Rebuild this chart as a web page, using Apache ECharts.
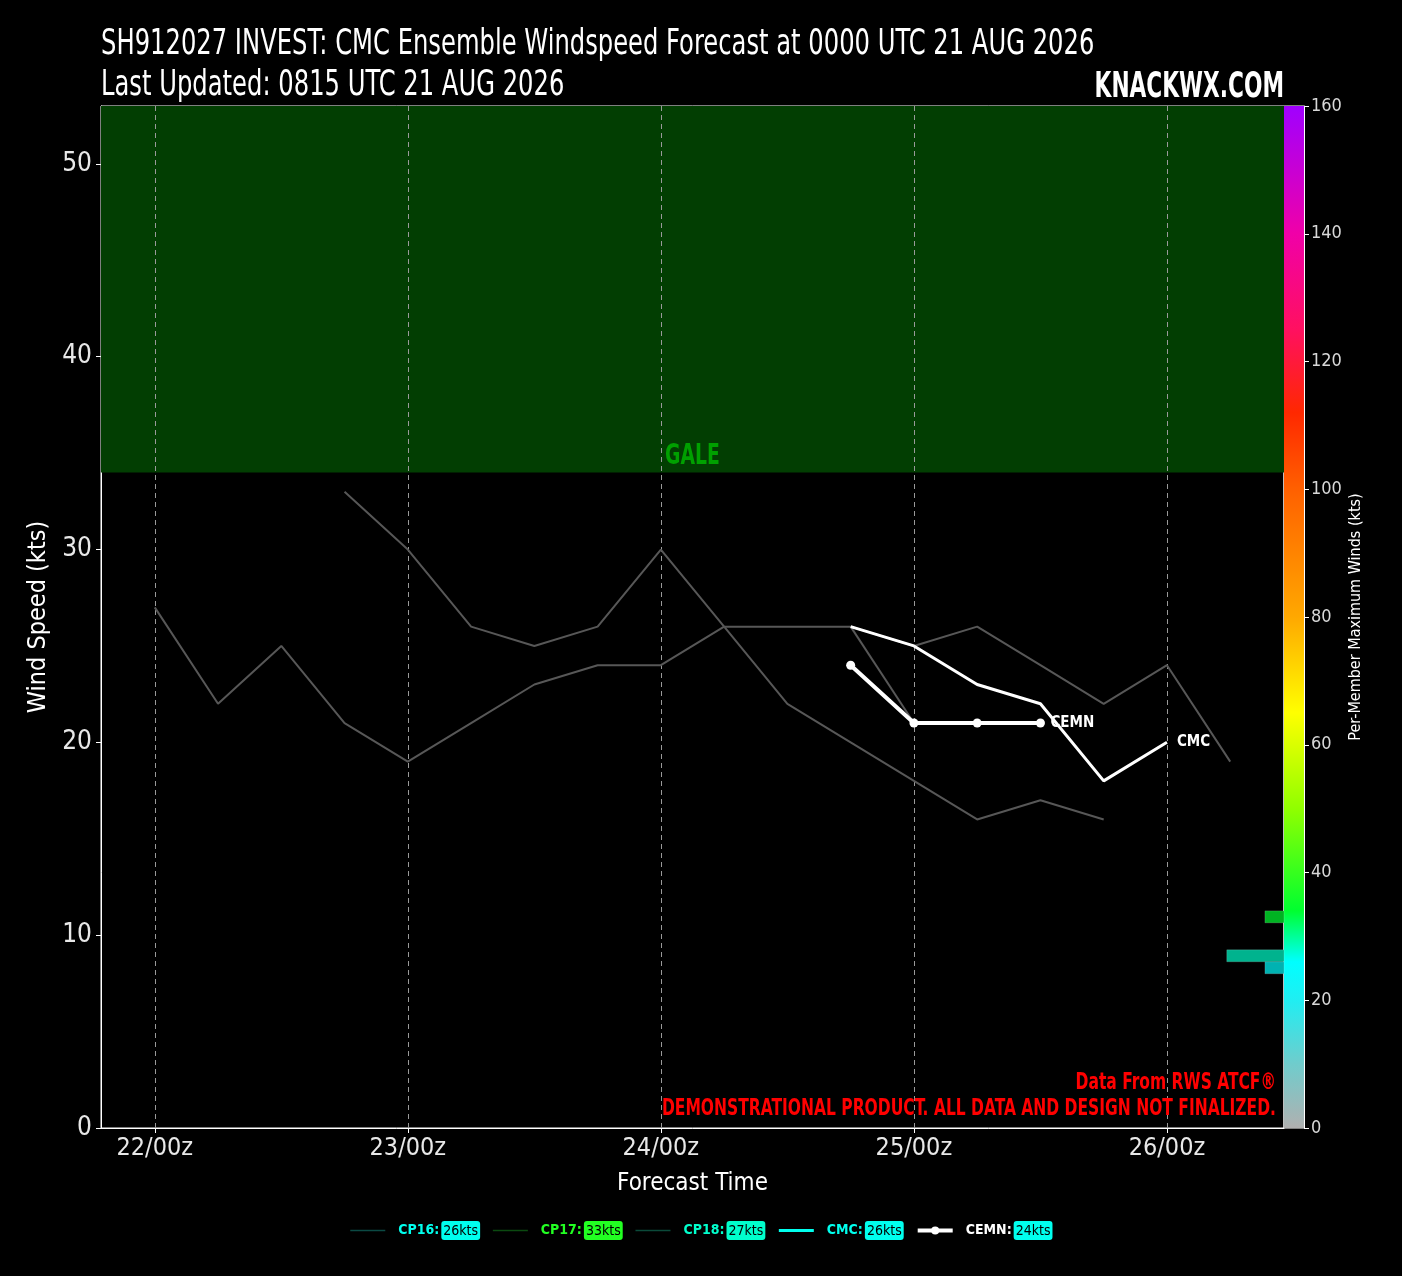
<!DOCTYPE html>
<html><head><meta charset="utf-8">
<script src="https://cdn.jsdelivr.net/npm/echarts@6/dist/echarts.min.js"></script>
<style>html,body{margin:0;padding:0;background:#000;}#c{width:1402px;height:1276px;}</style>
</head><body><div id="c"></div>
<script>
// ---- data ----
const dayTicks = [24, 48, 72, 96, 120];           // forecast hour (tau)
const dayLabels = ['22/00z', '23/00z', '24/00z', '25/00z', '26/00z'];
const yTicks = [0, 10, 20, 30, 40, 50];
const stepHours = 6;

const cp16Start = 90;  const cp16 = [26, 21];
const cp17Start = 42;  const cp17 = [33, 30, 26, 25, 26, 30, 26, 22, 20, 18, 16, 17, 16];
const cp18Start = 24;  const cp18 = [27, 22, 25, 21, 19, 21, 23, 24, 24, 26, 26, 26, 25, 26, 24, 22, 24, 19];
const cmcStart = 90;   const cmc = [26, 25, 23, 22, 18, 20];
const cemnStart = 90;  const cemn = [24, 21, 21, 21];

const legendNames = ['CP16', 'CP17', 'CP18', 'CMC', 'CEMN'];
const legendMax = [26, 33, 27, 26, 24];
const legendTextColors = ['#00ffee', '#22ff22', '#00ffcc', '#00ffee', '#ffffff'];
const legendBoxColors = ['#00ffee', '#22ff22', '#00ffcc', '#00ffee', '#00ffee'];
const legendLineColors = ['#0b4a44', '#0b4a10', '#0b4a3a', '#00ffee', '#ffffff'];
const legendLineWidths = [1.5, 1.5, 1.5, 3, 4];

const histLevels = [10.95, 8.93, 8.31];
const histCounts = [1, 3, 1];
const histColors = ['#00b322', '#00b38e', '#00b2b2'];

const cbKts = [0, 10, 20, 26, 34, 50, 65, 80, 100, 112, 125, 140, 160];
const cbColors = ['#b0b0b0', '#70cccc', '#20eef2', '#00ffff', '#00ff30', '#90ff00', '#ffff00', '#ffa800', '#ff6000', '#ff2800', '#ff1060', '#f000a8', '#a000ff'];

const galeFrom = 34, yMax = 53;
const xMin = 18.9, xMax = 131.1;

const titleLines = ['SH912027 INVEST: CMC Ensemble Windspeed Forecast at 0000 UTC 21 AUG 2026', 'Last Updated: 0815 UTC 21 AUG 2026'];

// ---- helpers ----
const FONT = "'Liberation Sans Narrow','DejaVu Sans Condensed','Roboto Condensed','Noto Sans',sans-serif";
function pairs(start, vals) { return vals.map((v, i) => [start + i * stepHours, v]); }

const chart = echarts.init(document.getElementById('c'), null, {renderer: 'canvas'});

const grayLine = {color: '#575757', width: 2};
function memberSeries(name, start, vals) {
  return {
    name: name, type: 'line', data: pairs(start, vals), symbol: 'none',
    lineStyle: grayLine, itemStyle: {color: '#575757'}, z: 5, silent: true,
    xAxisIndex: 0, yAxisIndex: 0
  };
}

const legendData = legendNames.map((n, i) => ({
  name: n,
  lineStyle: {color: legendLineColors[i], width: legendLineWidths[i]},
  itemStyle: n === 'CEMN' ? {color: '#fff', borderWidth: 0} : {color: 'rgba(0,0,0,0)', borderColor: 'rgba(0,0,0,0)', borderWidth: 0},
  textStyle: {
    rich: {
      n: {color: legendTextColors[i], fontFamily: FONT, fontWeight: 'bold', fontSize: 14, padding: [0, 2, 0, 8]},
      v: {color: '#000', backgroundColor: legendBoxColors[i], fontFamily: FONT, fontSize: 14,
          borderRadius: 3, padding: [3, 2, 2, 2]}
    }
  }
}));

const plotBox = {left: 101, right: 118, top: 106, bottom: 148};

const option = {
  backgroundColor: '#000',
  animation: false,
  legend: {
    bottom: 31, left: 'center', itemWidth: 35, itemHeight: 10, itemGap: 12,
    selectedMode: false, data: legendData,
    formatter: name => '{n|' + name + ':}{v|' + legendMax[legendNames.indexOf(name)] + 'kts}',
    textStyle: {fontFamily: FONT}
  },
  grid: [
    Object.assign({show: true, borderColor: '#fff', borderWidth: 1, backgroundColor: '#000'}, plotBox),
    {left: 1284, width: 20, top: 106, bottom: 148, show: true, borderColor: '#fff', borderWidth: 1},
    Object.assign({show: false}, plotBox)
  ],
  xAxis: [
    {
      type: 'value', gridIndex: 0, min: xMin, max: xMax,
      name: 'Forecast Time', nameLocation: 'middle', nameGap: 44,
      nameTextStyle: {color: '#fff', fontFamily: FONT, fontSize: 24},
      axisLine: {show: true, onZero: false, lineStyle: {color: '#fff'}},
      axisTick: {show: true, customValues: dayTicks, length: 5, lineStyle: {color: '#fff'}},
      axisLabel: {show: true, customValues: dayTicks, color: '#e8e8e8', fontFamily: FONT, fontSize: 25, margin: 8,
        formatter: v => dayLabels[dayTicks.indexOf(v)] || ''},
      splitLine: {show: false}
    },
    {type: 'category', gridIndex: 1, data: ['cb'], show: false},
    {type: 'value', gridIndex: 2, min: 0, max: 62, inverse: true, show: false}
  ],
  yAxis: [
    {
      type: 'value', gridIndex: 0, min: 0, max: yMax,
      name: 'Wind Speed (kts)', nameLocation: 'middle', nameGap: 48,
      nameTextStyle: {color: '#fff', fontFamily: FONT, fontSize: 25},
      axisLine: {show: true, onZero: false, lineStyle: {color: '#fff'}},
      axisTick: {show: true, customValues: yTicks, length: 5, lineStyle: {color: '#fff'}},
      axisLabel: {show: true, customValues: yTicks, color: '#e8e8e8', fontFamily: FONT, fontSize: 26, margin: 9},
      splitLine: {show: false}
    },
    {
      type: 'value', gridIndex: 1, min: 0, max: 160, interval: 20, position: 'right',
      name: 'Per-Member Maximum Winds (kts)', nameLocation: 'middle', nameGap: 44, nameRotate: 90,
      nameTextStyle: {color: '#fff', fontFamily: FONT, fontSize: 16},
      axisLine: {show: true, onZero: false, lineStyle: {color: '#fff'}},
      axisTick: {show: true, length: 5, lineStyle: {color: '#fff'}},
      axisLabel: {color: '#d8d8d8', fontFamily: FONT, fontSize: 18, margin: 7},
      splitLine: {show: false}
    },
    {type: 'value', gridIndex: 2, min: 0, max: yMax, show: false}
  ],
  graphic: [
    {type: 'text', id: 't1', x: 101, y: 45, scaleX: 0.77, z: 100,
     style: {text: titleLines[0], fill: '#fff', font: "35px " + FONT, align: 'left', verticalAlign: 'middle'}},
    {type: 'text', id: 't2', x: 101, y: 86, scaleX: 0.77, z: 100,
     style: {text: titleLines[1], fill: '#fff', font: "35px " + FONT, align: 'left', verticalAlign: 'middle'}},
    {type: 'text', id: 'kn', x: 1284, y: 88, scaleX: 0.67, z: 100,
     style: {text: 'KNACKWX.COM', fill: '#fff', font: "bold 36px " + FONT, align: 'right', verticalAlign: 'middle'}},
    {type: 'text', id: 'r1', x: 1276, y: 1083, scaleX: 0.75, z: 100,
     style: {text: 'Data From RWS ATCF\u00ae', fill: '#ff0000', font: "bold 23px " + FONT, align: 'right', verticalAlign: 'middle'}},
    {type: 'text', id: 'r2', x: 1276, y: 1109, scaleX: 0.75, z: 100,
     style: {text: 'DEMONSTRATIONAL PRODUCT. ALL DATA AND DESIGN NOT FINALIZED.', fill: '#ff0000', font: "bold 23px " + FONT, align: 'right', verticalAlign: 'middle'}}
  ],
  series: [
    {
      name: 'gale', type: 'line', data: [], xAxisIndex: 0, yAxisIndex: 0, z: 1, silent: true,
      markArea: {
        silent: true,
        itemStyle: {color: '#023e02'},
        label: {show: false},
        data: [[{yAxis: galeFrom}, {yAxis: yMax}]]
      }
    },
    {
      name: 'grid', type: 'line', data: [], xAxisIndex: 0, yAxisIndex: 0, z: 2, silent: true,
      markLine: {
        silent: true, symbol: 'none', label: {show: false},
        lineStyle: {color: '#9a9a9a', type: [5, 4], width: 1},
        data: dayTicks.map(t => ({xAxis: t}))
      }
    },
    memberSeries('CP16', cp16Start, cp16),
    memberSeries('CP17', cp17Start, cp17),
    memberSeries('CP18', cp18Start, cp18),
    {
      name: 'CMC', type: 'line', data: pairs(cmcStart, cmc), symbol: 'none', z: 6,
      lineStyle: {color: '#fff', width: 3}, itemStyle: {color: '#fff'},
      endLabel: {show: true, formatter: 'CMC', color: '#fff', fontFamily: FONT, fontWeight: 'bold', fontSize: 15, distance: 10}
    },
    {
      name: 'CEMN', type: 'line', data: pairs(cemnStart, cemn), symbol: 'circle', symbolSize: 9, z: 7,
      showSymbol: true,
      lineStyle: {color: '#fff', width: 4}, itemStyle: {color: '#fff'},
      endLabel: {show: true, formatter: 'CEMN', color: '#fff', fontFamily: FONT, fontWeight: 'bold', fontSize: 15, distance: 10}
    },
    {
      name: 'hist', type: 'custom', xAxisIndex: 2, yAxisIndex: 2, z: 4, silent: true,
      data: histLevels.map((y, i) => [histCounts[i], y, i]),
      renderItem: function (params, api) {
        const cnt = api.value(0), y = api.value(1), i = api.value(2);
        const p1 = api.coord([cnt, y + 0.31]);
        const p0 = api.coord([0, y - 0.31]);
        return {type: 'rect', shape: {x: p1[0], y: p1[1], width: p0[0] - p1[0], height: p0[1] - p1[1]},
                style: {fill: histColors[i], stroke: 'rgba(255,255,255,0.15)', lineWidth: 1}};
      }
    },
    {
      name: 'colorbar', type: 'bar', xAxisIndex: 1, yAxisIndex: 1, barWidth: '100%', silent: true,
      data: [160],
      itemStyle: {
        color: new echarts.graphic.LinearGradient(0, 1, 0, 0,
          cbKts.map((k, i) => ({offset: k / 160, color: cbColors[i]})))
      }
    }
  ]
};
chart.setOption(option);

// GALE label placed at the centre of the gale band's lower edge
const galePt = chart.convertToPixel({xAxisIndex: 0, yAxisIndex: 0}, [(xMin + xMax) / 2, galeFrom]);
chart.setOption({
  graphic: [{type: 'text', id: 'gale', x: galePt[0], y: galePt[1] - 1, scaleX: 0.72, z: 50,
    style: {text: 'GALE', fill: '#00a000', font: "bold 29px " + FONT, align: 'center', verticalAlign: 'bottom'}}]
});
</script>
</body></html>
